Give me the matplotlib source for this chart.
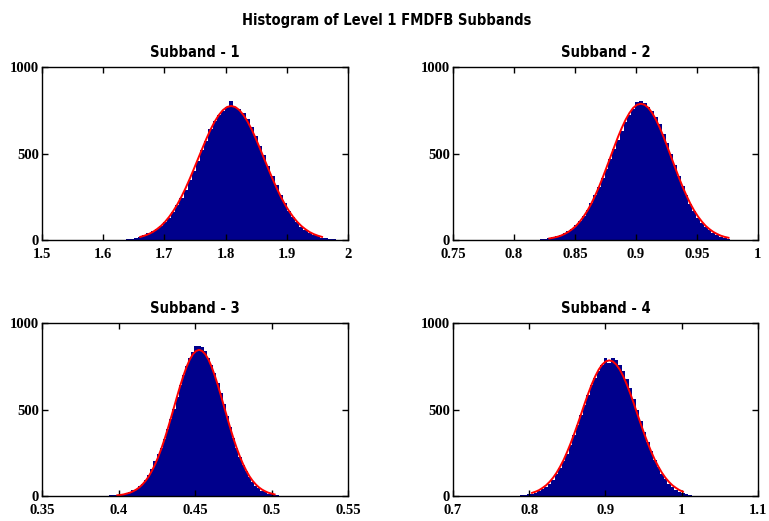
import numpy as np
import matplotlib
matplotlib.use('Agg')
import matplotlib.pyplot as plt

# ---- data ----
titles = ['Subband - 1', 'Subband - 2', 'Subband - 3', 'Subband - 4']
xlims = [(1.5, 2.0), (0.75, 1.0), (0.35, 0.55), (0.7, 1.1)]
xticks = [[1.5, 1.6, 1.7, 1.8, 1.9, 2.0],
          [0.75, 0.8, 0.85, 0.9, 0.95, 1.0],
          [0.35, 0.4, 0.45, 0.5, 0.55],
          [0.7, 0.8, 0.9, 1.0, 1.1]]
xticklabels = [['1.5', '1.6', '1.7', '1.8', '1.9', '2'],
               ['0.75', '0.8', '0.85', '0.9', '0.95', '1'],
               ['0.35', '0.4', '0.45', '0.5', '0.55'],
               ['0.7', '0.8', '0.9', '1', '1.1']]

# histogram bins: first bin centre and bin width for each subband
bin_first = [1.6335, 0.8165, 0.3910, 0.7900]
bin_width = [0.00675, 0.003125, 0.002056, 0.0046]

counts1 = [3, 5, 8, 13, 20, 27, 38, 50, 66, 83, 104, 130, 160, 205, 245, 290,
           345, 400, 455, 520, 575, 640, 690, 720, 745, 770, 805, 770, 760,
           735, 700, 655, 600, 545, 490, 430, 372, 318, 262, 212, 170, 132,
           102, 78, 58, 42, 30, 21, 14, 9, 6, 4, 2, 1, 1]
counts2 = [2, 3, 5, 7, 10, 15, 21, 28, 38, 50, 66, 85, 108, 138, 172, 212,
           258, 305, 358, 412, 470, 525, 580, 630, 680, 720, 760, 800, 805,
           790, 770, 745, 712, 668, 615, 560, 495, 432, 372, 312, 258, 208,
           166, 130, 100, 76, 56, 40, 28, 19, 12, 8]
counts3 = [1, 2, 3, 4, 6, 8, 12, 17, 24, 32, 43, 56, 72, 95, 122, 158, 200,
           240, 280, 330, 388, 445, 505, 570, 640, 700, 750, 800, 835, 865,
           870, 860, 840, 800, 760, 712, 655, 595, 530, 465, 400, 338, 280,
           228, 182, 142, 108, 82, 60, 44, 31, 21, 14, 9, 6, 3]
counts4 = [4, 6, 9, 13, 19, 27, 38, 52, 70, 95, 125, 160, 200, 245, 295, 350,
           408, 468, 528, 585, 640, 685, 725, 760, 800, 770, 800, 785, 760,
           725, 678, 622, 560, 495, 432, 370, 312, 258, 208, 165, 128, 96,
           70, 50, 34, 23, 15, 9, 5]

# red fitted curves, sampled on the same bin grid (first sample index, values)
fit_start = [4, 4, 4, 3]
fit1 = [18, 25, 34, 46, 62, 81, 105, 134, 168, 207, 252, 301, 355, 412, 470,
        528, 585, 638, 684, 722, 751, 769, 775, 769, 751, 722, 684, 638, 585,
        528, 470, 412, 355, 301, 252, 207, 168, 134, 105, 81, 62, 46, 34, 25,
        18]
fit2 = [9, 13, 18, 25, 35, 47, 63, 82, 107, 136, 170, 210, 256, 306, 361,
        419, 478, 537, 595, 648, 695, 734, 764, 782, 788, 782, 764, 734, 695,
        648, 595, 537, 478, 419, 361, 306, 256, 210, 170, 136, 107, 82, 63,
        47, 35, 25, 18, 13]
fit3 = [4, 6, 9, 14, 19, 27, 37, 50, 67, 88, 114, 146, 183, 226, 274, 328,
        387, 449, 512, 576, 638, 695, 746, 788, 819, 838, 845, 838, 819, 788,
        746, 695, 638, 576, 512, 449, 387, 328, 274, 226, 183, 146, 114, 88,
        67, 50, 37, 27, 19, 14, 9]
fit4 = [18, 25, 34, 47, 62, 82, 106, 135, 170, 209, 255, 305, 359, 416, 475,
        535, 592, 645, 692, 731, 760, 778, 784, 778, 760, 731, 692, 645, 592,
        535, 475, 416, 359, 305, 255, 209, 170, 135, 106, 82, 62, 47, 34, 25]

all_counts = [counts1, counts2, counts3, counts4]
all_fits = [fit1, fit2, fit3, fit4]

# ---- figure ----
fig = plt.figure(figsize=(7.69, 5.21), dpi=100)
boxes = [[0.0546, 0.5393, 0.398, 0.332],
         [0.589, 0.5393, 0.3966, 0.332],
         [0.0546, 0.048, 0.398, 0.332],
         [0.589, 0.048, 0.3966, 0.332]]

title_font = dict(family='DejaVu Sans', stretch='condensed',
                  fontweight='bold', fontsize=10.5)

for i in range(4):
    ax = fig.add_axes(boxes[i])
    n = len(all_counts[i])
    centers = bin_first[i] + bin_width[i] * np.arange(n)
    ax.bar(centers, all_counts[i], width=bin_width[i], color='#00008c',
           linewidth=0)
    fx = centers[fit_start[i]:fit_start[i] + len(all_fits[i])]
    ax.plot(fx, all_fits[i], color='red', linewidth=1.4)

    ax.set_xlim(*xlims[i])
    ax.set_ylim(0, 1000)
    ax.set_xticks(xticks[i])
    ax.set_xticklabels(xticklabels[i], fontfamily='Liberation Serif',
                       fontweight='bold', fontsize=10.5)
    ax.set_yticks([0, 500, 1000])
    ax.set_yticklabels(['0', '500', '1000'], fontfamily='Liberation Serif',
                       fontweight='bold', fontsize=10.5)
    ax.tick_params(direction='in', top=True, right=True, length=4, width=1)
    ax.tick_params(axis='x', pad=5.5)
    ax.tick_params(axis='y', pad=2)
    for sp in ax.spines.values():
        sp.set_linewidth(1)
    ax.set_title(titles[i], pad=7, **title_font)

fig.suptitle('Histogram of Level 1 FMDFB Subbands', x=0.503, y=0.975,
             **title_font)

fig.savefig('out.png', dpi=100)
